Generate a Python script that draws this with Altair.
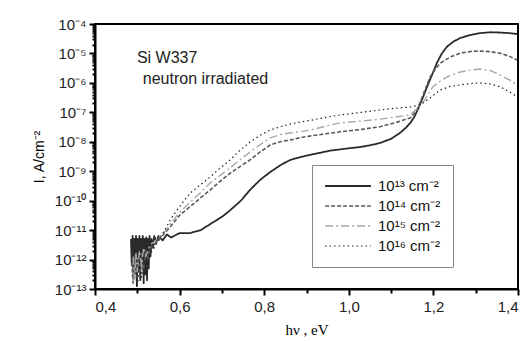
import altair as alt
import pandas as pd

# ---- data (photon energy in eV, log10 of current in A/cm^2) ----
E13 = [0.485, 0.487, 0.489, 0.491, 0.493, 0.495, 0.497, 0.499, 0.501, 0.503, 0.505, 0.507,
       0.509, 0.511, 0.513, 0.515, 0.517, 0.519, 0.521, 0.523, 0.525, 0.527, 0.529, 0.531,
       0.534, 0.537, 0.540, 0.545, 0.550, 0.560, 0.570, 0.580, 0.600, 0.625, 0.650, 0.672,
       0.700, 0.720, 0.745, 0.766, 0.790, 0.814, 0.840, 0.861, 0.885, 0.910, 0.956, 1.000,
       1.026, 1.050, 1.074, 1.100, 1.121, 1.135, 1.145, 1.155, 1.165, 1.175, 1.185, 1.197,
       1.208, 1.220, 1.232, 1.247, 1.263, 1.285, 1.310, 1.335, 1.357, 1.380, 1.398]
L13 = [-11.3, -12.2, -11.2, -12.6, -11.3, -11.8, -11.2, -12.9, -11.3, -12.4, -11.2, -12.7,
       -11.3, -12.1, -11.2, -12.8, -11.3, -12.5, -11.25, -12.7, -11.3, -12.3, -11.2, -11.9,
       -11.3, -11.6, -11.2, -11.4, -11.2, -11.35, -11.15, -11.25, -11.1, -11.1, -11.0, -10.8,
       -10.55, -10.32, -10.0, -9.64, -9.3, -9.03, -8.78, -8.62, -8.52, -8.44, -8.3, -8.22,
       -8.18, -8.12, -8.04, -7.9, -7.7, -7.52, -7.37, -7.15, -6.85, -6.5, -6.13, -5.72,
       -5.33, -5.0, -4.77, -4.6, -4.48, -4.38, -4.31, -4.28, -4.29, -4.31, -4.34]

E14 = [0.487, 0.490, 0.494, 0.498, 0.502, 0.506, 0.510, 0.515, 0.520, 0.525, 0.530, 0.540,
       0.550, 0.565, 0.580, 0.600, 0.625, 0.650, 0.672, 0.695, 0.719, 0.742, 0.766, 0.790,
       0.814, 0.840, 0.861, 0.885, 0.910, 0.950, 0.979, 1.030, 1.074, 1.110, 1.145, 1.160,
       1.168, 1.180, 1.192, 1.205, 1.216, 1.240, 1.263, 1.290, 1.310, 1.335, 1.357, 1.380, 1.398]
L14 = [-12.1, -12.8, -12.0, -12.6, -11.9, -12.5, -11.8, -12.3, -11.7, -12.0, -11.6, -11.5,
       -11.35, -11.1, -10.85, -10.5, -10.2, -9.9, -9.64, -9.35, -9.07, -8.85, -8.62, -8.35,
       -8.11, -7.99, -7.94, -7.86, -7.8, -7.72, -7.66, -7.58, -7.49, -7.35, -7.19, -6.95,
       -6.68, -6.25, -5.8, -5.52, -5.33, -5.12, -4.99, -4.93, -4.92, -4.94, -4.99, -5.1, -5.22]

E15 = [0.490, 0.493, 0.497, 0.500, 0.505, 0.510, 0.515, 0.520, 0.530, 0.540, 0.550, 0.565,
       0.580, 0.600, 0.625, 0.650, 0.672, 0.695, 0.719, 0.742, 0.766, 0.790, 0.814, 0.840,
       0.861, 0.885, 0.910, 0.950, 0.979, 1.030, 1.074, 1.110, 1.145, 1.160, 1.175, 1.187,
       1.199, 1.215, 1.232, 1.263, 1.290, 1.310, 1.335, 1.357, 1.380, 1.398]
L15 = [-11.9, -12.7, -11.8, -12.4, -11.7, -12.2, -11.6, -11.9, -11.5, -11.4, -11.25, -11.05,
       -10.75, -10.4, -10.05, -9.72, -9.4, -9.15, -8.89, -8.62, -8.35, -8.1, -7.87, -7.75,
       -7.7, -7.66, -7.6, -7.45, -7.36, -7.3, -7.23, -7.16, -7.09, -6.9, -6.68, -6.4,
       -6.13, -5.95, -5.8, -5.63, -5.56, -5.53, -5.58, -5.73, -5.9, -6.07]

E16 = [0.495, 0.500, 0.505, 0.510, 0.515, 0.520, 0.530, 0.540, 0.550, 0.565, 0.580, 0.600,
       0.625, 0.650, 0.672, 0.695, 0.719, 0.742, 0.766, 0.790, 0.814, 0.840, 0.861, 0.885,
       0.910, 0.950, 0.979, 1.030, 1.074, 1.110, 1.145, 1.168, 1.180, 1.192, 1.216, 1.240,
       1.263, 1.290, 1.310, 1.335, 1.357, 1.380, 1.398]
L16 = [-12.3, -12.9, -12.2, -12.6, -12.0, -12.3, -11.8, -11.6, -11.35, -11.0, -10.6, -10.2,
       -9.74, -9.45, -9.2, -8.9, -8.62, -8.3, -8.01, -7.78, -7.6, -7.48, -7.4, -7.33,
       -7.27, -7.16, -7.09, -7.0, -6.92, -6.86, -6.82, -6.75, -6.64, -6.51, -6.24, -6.12,
       -6.07, -6.02, -6.0, -6.04, -6.13, -6.3, -6.48]

series_labels = ["10¹³ cm⁻²", "10¹⁴ cm⁻²", "10¹⁵ cm⁻²", "10¹⁶ cm⁻²"]
series_colors = ["#2a2a2a", "#5a5a5a", "#a8a8a8", "#222222"]
series_dashes = [[1, 0], [4, 2], [8, 3, 2, 3], [1.5, 3]]
series_widths = [1.8, 1.2, 1.4, 1.4]

note_text = ["Si W337", "neutron irradiated"]
note_E = [0.499, 0.513]
note_L = [-5.15, -5.87]

x_ticks = [0.4, 0.5, 0.6, 0.7, 0.8, 0.9, 1.0, 1.1, 1.2, 1.3, 1.4]
decades = list(range(-13, -3))

# ---- tables ----
rows = []
for lab, es, ls in zip(series_labels, [E13, E14, E15, E16], [L13, L14, L15, L16]):
    for i, (e, l) in enumerate(zip(es, ls)):
        rows.append({"series": lab, "E": e, "I": 10.0 ** l, "k": i})
df = pd.DataFrame(rows)
notes = pd.DataFrame({"t": note_text, "E": note_E, "I": [10.0 ** v for v in note_L]})

y_ticks = [m * 10.0 ** d for d in decades[:-1] for m in range(1, 10)] + [10.0 ** decades[-1]]

sup = {"-": "⁻", "0": "⁰", "1": "¹", "2": "²", "3": "³", "4": "⁴",
       "5": "⁵", "6": "⁶", "7": "⁷", "8": "⁸", "9": "⁹"}
ex = "('' + round(log(datum.value)/LN10))"
for k, v in sup.items():
    ex = f"replace({ex}, regexp('{k}', 'g'), '{v}')"
is_major = "abs(log(datum.value)/LN10 - round(log(datum.value)/LN10)) < 0.01"
y_label = f"{is_major} ? '10' + {ex} : ''"
x_major = "abs(round(datum.value*10)) % 2 == 0"
x_label = f"{x_major} ? replace(format(datum.value, '.1f'), '.', ',') : ''"

x_enc = alt.X("E:Q", scale=alt.Scale(domain=[0.4, 1.4], nice=False, zero=False),
              axis=alt.Axis(values=x_ticks, labelExpr=x_label, title="hν , eV",
                            titleFont="Liberation Serif", titleFontSize=15,
                            titleFontWeight="normal", titlePadding=8,
                            labelFont="Liberation Sans", labelFontSize=15,
                            labelColor="#222", labelOverlap=False, labelPadding=4,
                            tickSize={"condition": {"test": x_major, "value": 6}, "value": 4},
                            tickWidth=2, tickColor="black", domainColor="black",
                            domainWidth=2, grid=False))
y_enc = alt.Y("I:Q", scale=alt.Scale(type="log", domain=[1e-13, 1e-4], nice=False),
              axis=alt.Axis(values=y_ticks, labelExpr=y_label, title="I, A/cm⁻²",
                            titleFont="Liberation Sans", titleFontSize=14,
                            titleFontWeight="normal", titlePadding=8,
                            labelFont="Liberation Sans", labelFontSize=15,
                            labelColor="#222", labelOverlap=False, labelPadding=3,
                            tickSize={"condition": {"test": is_major, "value": 6}, "value": 3},
                            tickWidth=2, tickColor="black", domainColor="black",
                            domainWidth=2, grid=False))

legend = alt.Legend(orient="none", legendX=217, legendY=141, title=None,
                    symbolType="stroke", symbolSize=2100, labelFontSize=15,
                    labelFont="Liberation Sans", labelColor="#111",
                    strokeColor="#888", fillColor="white", padding=12,
                    rowPadding=2, labelOffset=6, clipHeight=18, labelLimit=90)

lines = alt.Chart(df).mark_line(strokeJoin="round", clip=True).encode(
    x=x_enc,
    y=y_enc,
    order="k:Q",
    color=alt.Color("series:N", scale=alt.Scale(domain=series_labels, range=series_colors),
                    legend=legend),
    strokeDash=alt.StrokeDash("series:N", scale=alt.Scale(domain=series_labels,
                                                          range=series_dashes),
                              legend=legend),
    strokeWidth=alt.StrokeWidth("series:N", scale=alt.Scale(domain=series_labels,
                                                            range=series_widths),
                                legend=legend),
)

text = alt.Chart(notes).mark_text(align="left", baseline="middle", fontSize=16,
                                  font="Liberation Sans", color="#222").encode(
    x="E:Q", y="I:Q", text="t:N")

chart = alt.layer(lines, text).properties(
    width=423, height=265,
    padding={"left": 95, "top": 24, "right": 14, "bottom": 52},
    autosize=alt.AutoSizeParams(type="none"),
    background="white",
).configure_view(stroke="black", strokeWidth=2)

chart.save("out.html", embed_options={"renderer": "svg", "actions": False})
